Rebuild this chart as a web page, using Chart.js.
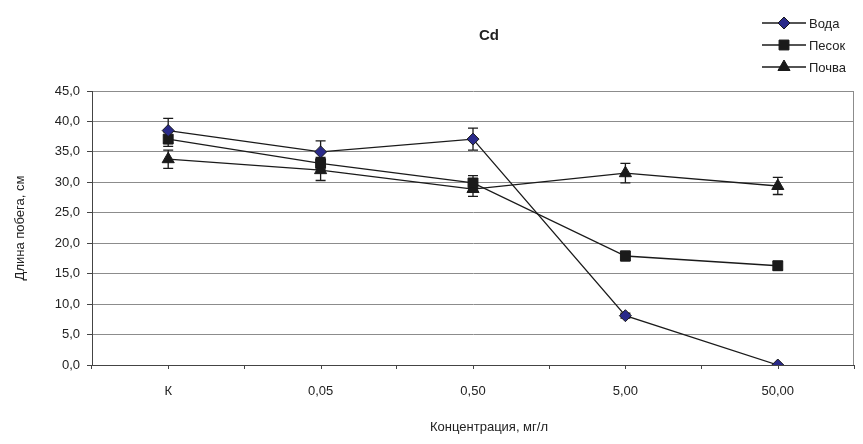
<!DOCTYPE html>
<html lang="ru">

<head>
  <meta charset="UTF-8">
  <title>Cd</title>
  <script src="https://cdn.jsdelivr.net/npm/chart.js"></script>
</head>

<style>
  body {
    margin: 0;
    background: #fff;
  }

  .chartBox {
    width: 863px;
    height: 444px;
  }
</style>

<body>
  <div class="chartBox">
    <canvas id="cdChart" width="863" height="444"></canvas>
  </div>

  <script>
    // categories and values
    const concentrations = ['К', '0,05', '0,50', '5,00', '50,00'];
    const voda = [38.5, 35.0, 37.1, 8.1, 0.0];
    const pesok = [37.1, 33.1, 29.9, 17.9, 16.3];
    const pochva = [33.8, 32.0, 28.9, 31.5, 29.4];

    // +/- error for each point
    const vodaErr = [2.0, 1.8, 1.8, 0.4, 0.0];
    const pesokErr = [1.2, 1.0, 1.2, 0.8, 0.7];
    const pochvaErr = [1.5, 1.7, 1.2, 1.6, 1.4];

    const yTicks = [0, 5, 10, 15, 20, 25, 30, 35, 40, 45];

    const chartTitle = 'Cd';
    const xTitle = 'Концентрация, мг/л';
    const yTitle = 'Длина побега, см';

    const FONT = "'Liberation Sans', Arial, sans-serif";
    const INK = '#1a1a1a';

    function series(label, data, errors, style, radius, fill) {
      return {
        label: label,
        data: data,
        errors: errors,
        borderColor: INK,
        borderWidth: 1.3,
        tension: 0,
        pointStyle: style,
        pointRadius: radius,
        pointHoverRadius: radius,
        pointBackgroundColor: fill,
        pointBorderColor: INK,
        pointBorderWidth: 1
      };
    }

    // error bars drawn through the chart's own scales
    const errorBars = {
      id: 'errorBars',
      beforeDatasetsDraw(chart) {
        const ctx = chart.ctx;
        const x = chart.scales.x;
        const y = chart.scales.y;
        ctx.save();
        ctx.strokeStyle = INK;
        ctx.lineWidth = 1.3;
        chart.data.datasets.forEach(ds => {
          ds.data.forEach((v, i) => {
            const e = ds.errors[i];
            if (!e) return;
            const px = x.getPixelForValue(i);
            const top = y.getPixelForValue(v + e);
            const bot = y.getPixelForValue(v - e);
            ctx.beginPath();
            ctx.moveTo(px, top);
            ctx.lineTo(px, bot);
            ctx.moveTo(px - 5, top);
            ctx.lineTo(px + 5, top);
            ctx.moveTo(px - 5, bot);
            ctx.lineTo(px + 5, bot);
            ctx.stroke();
          });
        });
        ctx.restore();
      }
    };

    // frame, centre tick marks, titles and the legend in the top right corner
    const extras = {
      id: 'extras',
      afterDraw(chart) {
        const ctx = chart.ctx;
        const area = chart.chartArea;
        const x = chart.scales.x;
        ctx.save();

        ctx.strokeStyle = '#8c8c8c';
        ctx.lineWidth = 1;
        ctx.beginPath();
        ctx.moveTo(area.right - 0.5, area.top);
        ctx.lineTo(area.right - 0.5, area.bottom);
        ctx.stroke();

        ctx.strokeStyle = '#444';
        ctx.beginPath();
        concentrations.forEach((c, i) => {
          const px = Math.round(x.getPixelForValue(i)) + 0.5;
          ctx.moveTo(px, area.bottom);
          ctx.lineTo(px, area.bottom + 4);
        });
        ctx.stroke();

        // titles, centred as in the original
        ctx.fillStyle = '#222';
        ctx.textAlign = 'center';
        ctx.textBaseline = 'middle';
        ctx.font = 'bold 15px ' + FONT;
        ctx.fillText(chartTitle, 489, 36);
        ctx.font = '13px ' + FONT;
        ctx.fillText(xTitle, 489, 427);

        ctx.font = '13px ' + FONT;
        ctx.textAlign = 'left';
        chart.data.datasets.forEach((ds, i) => {
          const ly = 23 + i * 22;
          ctx.strokeStyle = INK;
          ctx.lineWidth = 1.3;
          ctx.beginPath();
          ctx.moveTo(762, ly);
          ctx.lineTo(806, ly);
          ctx.stroke();
          ctx.fillStyle = ds.pointBackgroundColor;
          ctx.lineWidth = 1;
          Chart.helpers.drawPoint(ctx, {
            pointStyle: ds.pointStyle,
            radius: ds.pointRadius,
            rotation: 0,
            borderWidth: 1
          }, 784, ly);
          ctx.fillStyle = '#222';
          ctx.fillText(ds.label, 809, ly + 1);
        });
        ctx.restore();
      }
    };

    new Chart(document.getElementById('cdChart'), {
      type: 'line',
      data: {
        labels: concentrations,
        datasets: [
          series('Вода', voda, vodaErr, 'rectRot', 6, '#2a2a8a'),
          series('Песок', pesok, pesokErr, 'rect', 7, INK),
          series('Почва', pochva, pochvaErr, 'triangle', 7, INK)
        ]
      },
      options: {
        responsive: false,
        animation: false,
        layout: { padding: { top: 91, right: 9 } },
        plugins: {
          legend: { display: false },
          tooltip: { enabled: false },
          title: { display: false }
        },
        scales: {
          x: {
            offset: true,
            border: { color: '#444', width: 1 },
            grid: {
              offset: true,
              drawOnChartArea: false,
              tickLength: 4,
              tickColor: '#444'
            },
            ticks: {
              color: '#222',
              padding: 15,
              font: { family: FONT, size: 13 }
            },
            afterFit: scale => { scale.height = 79; }
          },
          y: {
            min: 0,
            max: 45,
            border: { color: '#444', width: 1 },
            grid: {
              color: '#8c8c8c',
              tickLength: 5,
              tickColor: '#444'
            },
            afterBuildTicks: scale => {
              scale.ticks = yTicks.map(v => ({ value: v }));
            },
            ticks: {
              color: '#222',
              padding: 7,
              font: { family: FONT, size: 13 },
              callback: v => v.toFixed(1).replace('.', ',')
            },
            title: {
              display: true,
              text: yTitle,
              color: '#222',
              font: { family: FONT, size: 13 },
              padding: { top: 13, bottom: 0 }
            },
            afterFit: scale => { scale.width = 92; }
          }
        }
      },
      plugins: [errorBars, extras]
    });
  </script>
</body>

</html>
